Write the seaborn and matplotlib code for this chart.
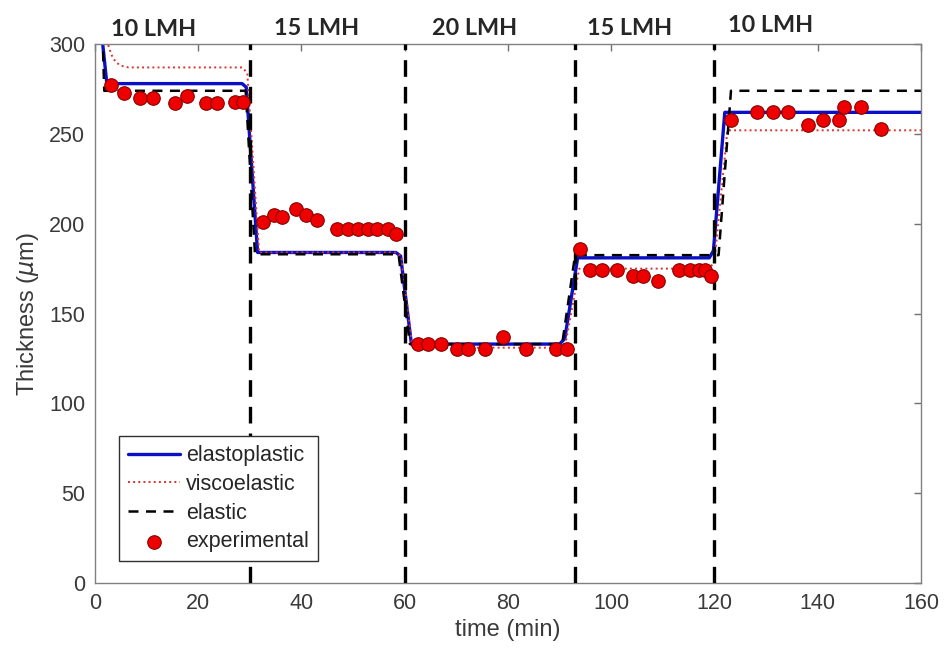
import numpy as np
import pandas as pd
import matplotlib
matplotlib.use("Agg")
import matplotlib.pyplot as plt
import seaborn as sns

# experimental points (time in min, thickness in um)
exp_t = [3.2, 5.7, 8.8, 11.2, 15.5, 17.9, 21.5, 23.7, 27.1, 28.7,
         32.6, 34.7, 36.2, 38.9, 40.9, 43.1, 46.8, 49.1, 51.0, 52.8, 54.6, 56.8, 58.3,
         62.6, 64.6, 67.0, 70.1, 72.3, 75.5, 79.1, 83.5, 89.4, 91.5,
         94.0, 95.9, 98.3, 101.2, 104.2, 106.2, 109.1, 113.2, 115.3, 117.1, 118.2, 119.3,
         123.2, 128.3, 131.3, 134.2, 138.2, 141.1, 144.2, 145.1, 148.3, 152.3]
exp_y = [277, 273, 270, 270, 267, 271, 267, 267, 268, 268,
         201, 205, 204, 208, 205, 202, 197, 197, 197, 197, 197, 197, 194,
         133, 133, 133, 130, 130, 130, 137, 130, 130, 130,
         186, 174, 174, 174, 171, 171, 168, 174, 174, 174, 174, 171,
         258, 262, 262, 262, 255, 258, 258, 265, 265, 253]

# model curves (break points)
ep_t = [0.8, 1.5, 2.3, 28.5, 29.3, 31.5, 58.3, 59.2, 61.3, 90.0, 91.0, 93.5, 119.0, 119.8, 122.0, 160]
ep_y = [330, 300, 278, 278, 276, 184, 184, 182, 133, 133, 136, 181, 181, 185, 262, 262]

ve_t = [1.5, 2.5, 3.2, 4.0, 5.0, 6.5, 28.5, 29.5, 31.8, 58.3, 59.3, 61.5, 90.0, 91.2, 93.8, 119.0, 120.0, 122.5, 160]
ve_y = [330, 300, 294, 290, 288, 287, 287, 284, 184, 184, 182, 131, 131, 134, 175, 175, 179, 252, 252]

el_t = [1.2, 1.8, 29.2, 31.0, 58.8, 61.0, 90.5, 93.0, 120.8, 123.2, 160]
el_y = [330, 274, 274, 183, 183, 133, 133, 182.5, 182.5, 274, 274]

# flux changes and labels
switch_t = [30, 60, 93, 120]
flux_labels = ["10 LMH", "15 LMH", "20 LMH", "15 LMH", "10 LMH"]
flux_label_t = [11.3, 43.0, 73.6, 103.6, 130.9]
flux_label_y = [304.5, 305, 305, 305, 306.5]

sns.set_style("white")
plt.rcParams["font.family"] = ["Liberation Sans", "DejaVu Sans"]

fig = plt.figure(figsize=(9.44, 6.58), dpi=100)
ax = fig.add_axes([0.1006, 0.114, 0.875, 0.819])

ep = pd.DataFrame({"t": ep_t, "y": ep_y})
ve = pd.DataFrame({"t": ve_t, "y": ve_y})
el = pd.DataFrame({"t": el_t, "y": el_y})
ex = pd.DataFrame({"t": exp_t, "y": exp_y})

sns.lineplot(data=ep, x="t", y="y", ax=ax, color="#0a10c8", lw=2.4, sort=False,
             label="elastoplastic")
sns.lineplot(data=ve, x="t", y="y", ax=ax, color="#e0302a", lw=1.4, ls=":", sort=False,
             label="viscoelastic")
sns.lineplot(data=el, x="t", y="y", ax=ax, color="black", lw=1.8, sort=False,
             label="elastic", dashes=False)
ax.lines[-1].set_dashes((4, 3))
sns.scatterplot(data=ex, x="t", y="y", ax=ax, color="#ee0000", edgecolor="#8a0000",
                s=95, linewidth=0.8, zorder=5, label="experimental")

for t in switch_t:
    ax.axvline(t, color="black", lw=2.4, dashes=(5, 3), zorder=4)

for t, yv, lab in zip(flux_label_t, flux_label_y, flux_labels):
    ax.text(t, yv, lab, ha="center", va="baseline", fontsize=16.8, fontweight="bold",
            family=["Lato", "DejaVu Sans"], clip_on=False)

ax.set_xlim(0, 160)
ax.set_ylim(0, 300)
ax.set_xticks(np.arange(0, 161, 20))
ax.set_yticks(np.arange(0, 301, 50))
ax.tick_params(direction="in", top=True, right=True, length=5, width=1,
               color="#707070", labelsize=15.5, labelcolor="#3a3a3a", pad=7)
for sp in ax.spines.values():
    sp.set_color("#808080")
    sp.set_linewidth(1)
ax.set_xlabel("time (min)", fontsize=17, color="#3a3a3a", labelpad=4)
ax.set_ylabel(r"Thickness ($\mu$m)", fontsize=17, color="#3a3a3a", labelpad=6)

leg = ax.legend(loc="lower left", bbox_to_anchor=(0.029, 0.04), fontsize=15.5,
                frameon=True, fancybox=False, edgecolor="#303030", framealpha=1,
                handlelength=2.4, borderpad=0.42, labelspacing=0.36, handletextpad=0.3,
                borderaxespad=0)
leg.get_frame().set_linewidth(1)
leg.set_zorder(10)

fig.savefig("out.png", dpi=100)
